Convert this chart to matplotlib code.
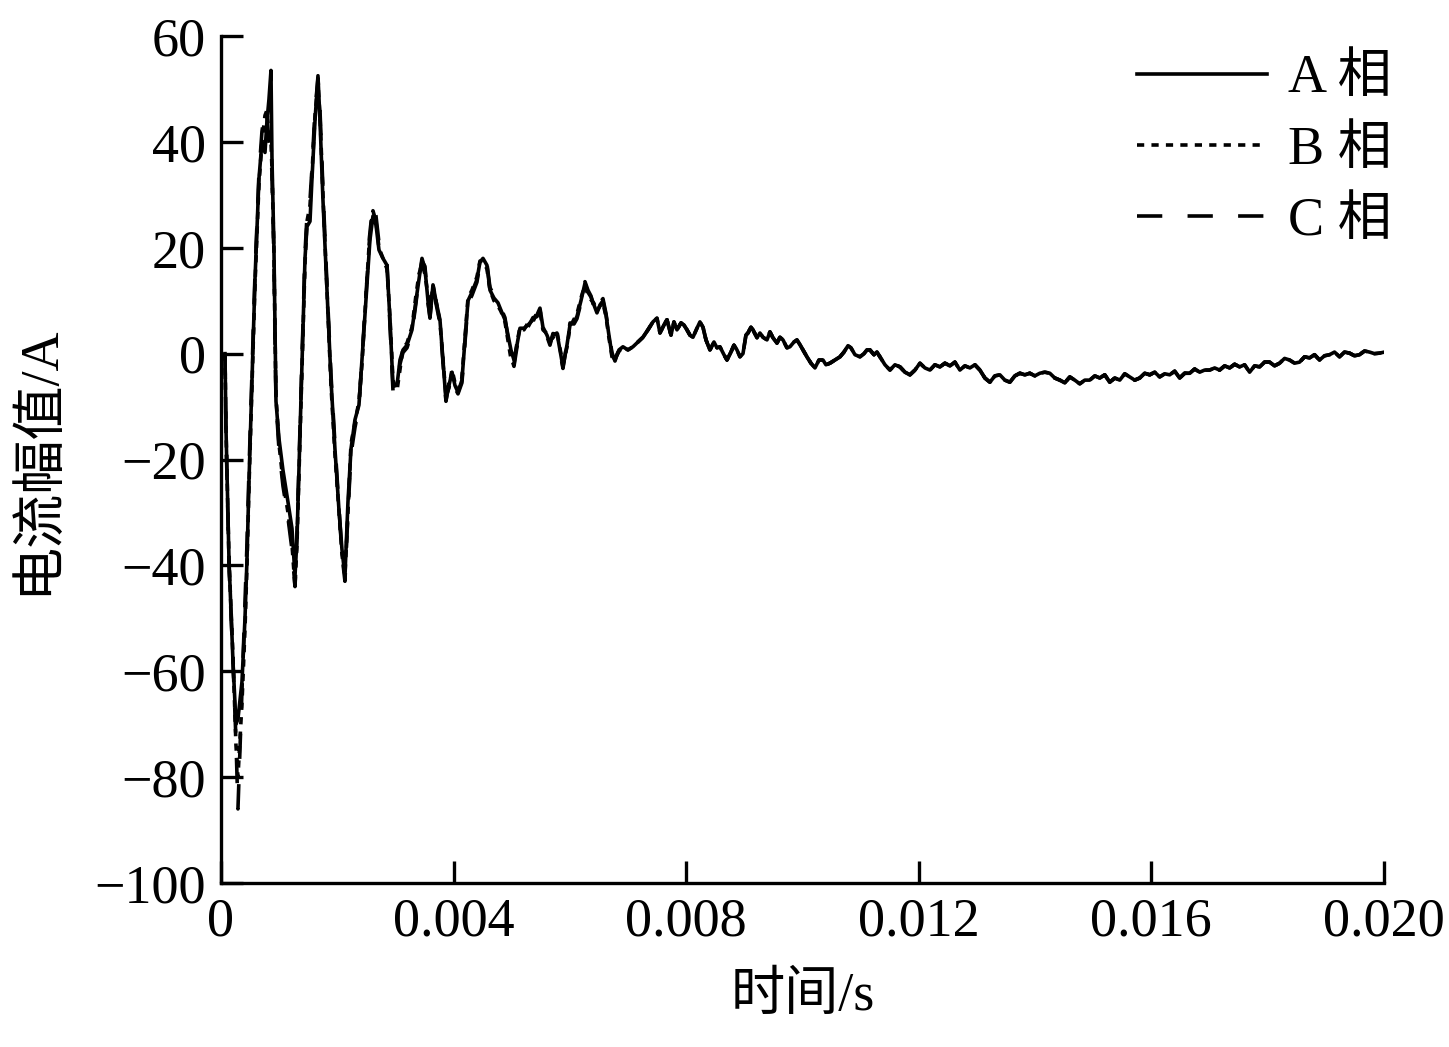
import numpy as np
import matplotlib
matplotlib.use("Agg")
import matplotlib.pyplot as plt

plt.rcParams['font.family'] = ['Liberation Serif', 'Noto Sans CJK SC', 'DejaVu Sans']
plt.rcParams['axes.unicode_minus'] = True

# ---------------- data (time in ms, current in A) ----------------
t_head_ms = [
    0.069, 0.086, 0.138, 0.206, 0.258, 0.292, 0.361, 0.413, 0.447, 0.482,
    0.533, 0.585, 0.653, 0.705, 0.757, 0.791, 0.825, 0.860, 0.877, 0.911,
    0.929, 0.946, 0.997, 1.066, 1.152, 1.221, 1.273, 1.307, 1.341, 1.376,
    1.410, 1.445, 1.479, 1.531, 1.565, 1.617, 1.668, 1.703, 1.754, 1.823,
    1.892, 1.960, 2.029, 2.081, 2.132, 2.184, 2.236, 2.304, 2.373, 2.425,
    2.494, 2.562, 2.614, 2.666, 2.717, 2.786, 2.855, 2.906, 2.958, 3.027,
    3.078, 3.130, 3.199, 3.285, 3.353, 3.405, 3.457, 3.508, 3.560, 3.594,
    3.646, 3.697, 3.766, 3.818, 3.869, 3.921, 3.973, 4.024, 4.076, 4.144,
    4.196, 4.248, 4.316, 4.402, 4.454, 4.506, 4.574, 4.626, 4.695, 4.764,
    4.815, 4.884, 4.936, 4.987, 5.039, 5.090, 5.142, 5.211, 5.279, 5.365,
    5.434, 5.486, 5.537, 5.606, 5.658, 5.709, 5.778, 5.830, 5.881, 5.950,
    6.002, 6.071, 6.122, 6.191, 6.260, 6.311, 6.363, 6.414, 6.466, 6.518,
    6.569, 6.621, 6.672, 6.724, 6.776, 6.844]

phase_a_head = [
    0, -14, -39, -58, -70, -69, -62, -50, -39, -24,
    -5, 14, 33, 40, 38, 44, 48, 53.5, 37, 20,
    4.5, -9, -16, -22, -28, -33, -42, -35, -22, -9,
    4.5, 18, 24, 25, 33, 44, 52.5, 44, 29, 12,
    -5, -18, -29.5, -37, -42, -28, -18, -12.5, -9.7, -1.2,
    10, 21.5, 26, 24.3, 19.6, 18, 16.7, 6.4, -6, -6,
    -1.2, 0.7, 1.6, 4.5, 10, 14, 18, 16, 10, 6.7,
    13, 10, 6.4, -1.2, -8.8, -6, -3.5, -6, -7.3, -5,
    2.6, 10, 11.6, 14, 17.3, 18, 16.7, 12, 10.5, 9.6,
    8.2, 6.4, 3.5, 0.7, -1.2, 1.6, 4.8, 4.8, 5.4, 6.4,
    7.3, 8.6, 5, 3.5, 2, 3.5, 3.9, 0.7, -2.5, 1.6,
    5.4, 6, 7, 10, 13.3, 11.6, 10.7, 9.2, 7.7, 9.2,
    10, 7.3, 3.5, -0.2, -1.2, 0.7]

phase_b_head = [
    0, -14, -39, -57, -74, -80, -66, -52, -40, -25,
    -6, 13, 32, 40, 45, 46, 41, 40, 35, 19,
    4, -8, -17, -24, -30, -36, -44, -36, -23, -10,
    4, 17, 25, 28, 34, 45, 51, 45, 30, 12,
    -6, -19, -30, -38, -42, -30, -17, -13, -9, -2,
    11, 23, 27, 25, 20, 18, 16, 7, -5, -7,
    -3, 1, 2, 5, 11, 15, 17, 15, 11, 8,
    13, 10, 6, -1, -8, -6.5, -3, -5.5, -7, -4.5,
    3, 10.5, 12, 14.5, 17.5, 17.5, 16, 12, 10, 9,
    8, 6, 2.5, -1, -2, 2, 5, 4.5, 5.8, 6,
    7.8, 8, 4.5, 3.8, 2.5, 3, 4.2, 1, -2, 1.2,
    5, 6.5, 7.5, 10.5, 13, 11, 10.2, 9.5, 8, 9,
    9.6, 7, 3, -0.6, -1, 0.4]

phase_c_head = [
    0, -15, -40, -58, -73, -86, -64, -48, -36, -22,
    -4, 15, 34, 42, 46, 45, 40, 38, 34, 18,
    3, -9, -18, -25, -31, -37, -44, -34, -21, -8,
    5, 19, 26, 29, 35, 46, 52, 46, 31, 13,
    -4, -17, -29, -38, -43, -30, -19, -14, -10, -1,
    11, 23, 28, 26, 21, 19, 17, 5.5, -7, -5.5,
    -2, 0.2, 1.1, 4, 9.5, 14.5, 17.5, 16.5, 9.5, 7,
    12.5, 9.5, 5.8, -1.6, -9, -5.5, -4, -6.5, -7.6, -5.5,
    2, 9.5, 11, 13.5, 17, 18, 17, 12.5, 11, 10,
    8.6, 6.8, 3, -0.5, -2.4, 1.2, 4.2, 5.2, 5, 6.8,
    7, 8.2, 5.4, 3.2, 1.6, 3.8, 3.6, 0.3, -2.8, 2,
    5.8, 5.6, 6.6, 9.6, 13.6, 12, 10.9, 8.8, 7.4, 9.6,
    10.4, 7.6, 3.8, 0.2, -1.4, 0.9]

t_mid_ms = [
    6.913, 6.999, 7.085, 7.171, 7.257, 7.343, 7.429, 7.498, 7.550, 7.618,
    7.670, 7.739, 7.790, 7.842, 7.911, 7.962, 8.014, 8.065, 8.117, 8.186,
    8.237, 8.289, 8.341, 8.409, 8.478, 8.530, 8.581, 8.650, 8.702, 8.770,
    8.822, 8.874, 8.925, 8.977, 9.028, 9.063, 9.114, 9.149, 9.218, 9.269,
    9.321, 9.390, 9.441, 9.493, 9.562, 9.613, 9.665, 9.733, 9.785, 9.854,
    9.905, 9.957, 10.009, 10.077, 10.146, 10.215, 10.284, 10.353, 10.404, 10.473,
    10.559, 10.645, 10.714, 10.783, 10.834, 10.903, 10.989, 11.058, 11.109, 11.161,
    11.230, 11.281, 11.333, 11.419, 11.505, 11.591]

phase_mid = [
    1.3, 0.7, 1.3, 2.2, 3.1, 4.5, 6, 6.7, 3.9, 5.4,
    6.4, 3.5, 6, 4.5, 5.8, 5.4, 4.5, 3.5, 3.1, 4.8,
    6, 5, 2.6, 0.7, 2.2, 1.1, 1.3, -0.2, -1.2, 0.3,
    1.6, 0.7, -0.6, 0, 3.5, 3.9, 5, 4.5, 3, 3.9,
    3.1, 2.6, 4.1, 3, 2, 3.1, 2.6, 1.1, 1.3, 2.2,
    2.6, 1.7, 0.7, -0.6, -1.8, -2.7, -1.2, -1.2, -2.1, -1.8,
    -1.2, -0.6, 0.3, 1.5, 1.1, -0.2, -0.6, 0, 0.7, 0.7,
    -0.2, 0.3, -0.6, -2.1, -3.1, -2.1]

tail_start_ms = 11.677
tail_step_ms = 0.0859
phase_tail = [
    -2.5, -3.5, -4, -3.1, -1.8, -2.7, -3.1, -2.1, -2.5, -1.8,
    -2.3, -1.6, -3.1, -2.3, -2.7, -2.1, -3.1, -4.6, -5.4, -4.2,
    -4, -5, -5.4, -4.2, -3.7, -4, -3.7, -4.2, -3.7, -3.5,
    -3.7, -4.6, -5, -5.5, -4.4, -5, -5.7, -5, -5, -4.2,
    -4.6, -4, -5.4, -4.6, -5, -3.8, -4.4, -5, -4.6, -3.7,
    -4, -3.5, -4.4, -3.8, -4, -3.3, -4.6, -3.7, -3.7, -2.9,
    -3.5, -3.1, -3.1, -2.7, -3.1, -2.3, -2.7, -2, -2.5, -2.1,
    -3.5, -2.3, -2.5, -1.6, -1.6, -2.3, -1.8, -0.9, -1.2, -1.8,
    -1.6, -0.6, -0.8, -0.2, -1.2, -0.4, -0.2, 0.3, -0.6, 0.3,
    0.1, -0.4, -0.2, 0.5, 0.3, 0, 0.1, 0.3]

legend_labels = ['A 相', 'B 相', 'C 相']
x_ticks = [0, 0.004, 0.008, 0.012, 0.016, 0.020]
x_tick_labels = ['0', '0.004', '0.008', '0.012', '0.016', '0.020']
y_ticks = [-100, -80, -60, -40, -20, 0, 20, 40, 60]

# ---------------- assemble ----------------
t_tail_ms = tail_start_ms + tail_step_ms * np.arange(len(phase_tail))
t_all = np.concatenate([t_head_ms, t_mid_ms, t_tail_ms]) / 1000.0
ia = np.concatenate([phase_a_head, phase_mid, phase_tail])
ib = np.concatenate([phase_b_head, phase_mid, phase_tail])
ic = np.concatenate([phase_c_head, phase_mid, phase_tail])

# ---------------- plot ----------------
fig = plt.figure(figsize=(14.49, 10.47), dpi=100)
ax = fig.add_axes([0.1525, 0.1566, 0.8026, 0.8090])

lw = 2.6
lc, = ax.plot(t_all, ic, color='black', lw=lw, linestyle=(0, (7, 7)))
lb, = ax.plot(t_all, ib, color='black', lw=lw, linestyle=(0, (2, 2)))
la, = ax.plot(t_all, ia, color='black', lw=lw, linestyle='-')

ax.set_xlim(0, 0.020)
ax.set_ylim(-100, 60)
ax.set_xticks(x_ticks)
ax.set_xticklabels(x_tick_labels)
ax.set_yticks(y_ticks)
ax.set_yticklabels([str(v).replace('-', '\u2212') for v in y_ticks])

for s in ['top', 'right']:
    ax.spines[s].set_visible(False)
for s in ['left', 'bottom']:
    ax.spines[s].set_linewidth(2.4)

ax.tick_params(axis='both', direction='in', length=16, width=2.4,
               labelsize=39, colors='black')
ax.tick_params(axis='y', pad=11)
ax.tick_params(axis='x', pad=10)

ax.set_xlabel('时间/s', fontsize=39, labelpad=17)
ax.set_ylabel('电流幅值/A', fontsize=39, labelpad=22)

leg = fig.legend([la, lb, lc], legend_labels, loc='upper right',
                 bbox_to_anchor=(1392 / 1449, 1 - 54 / 1047),
                 frameon=False, fontsize=39, handlelength=2.4,
                 handletextpad=0.4, labelspacing=0.38, borderpad=0,
                 borderaxespad=0)

fig.savefig('out.png', dpi=100)
